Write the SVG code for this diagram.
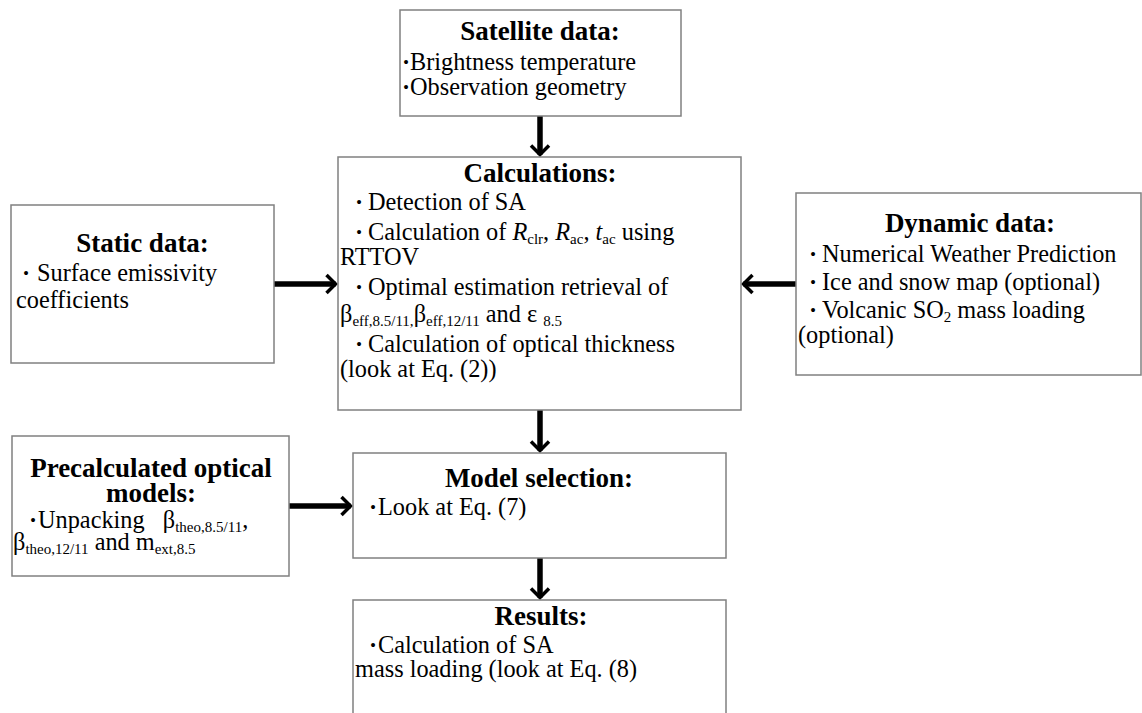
<svg xmlns="http://www.w3.org/2000/svg" width="1142" height="713" viewBox="0 0 1142 713">
<defs>
<style>
.box{fill:#fff;stroke:#808080;stroke-width:1.5}
.t{font-family:"Liberation Serif","Times New Roman",serif;font-size:24.3px;fill:#000}
.h{font-family:"Liberation Serif","Times New Roman",serif;font-size:27px;font-weight:bold;text-anchor:middle;fill:#000}
.b{font-weight:bold}
.s{font-size:15px}
.i{font-style:italic}
.arr{stroke:#000;stroke-width:5.5;fill:none;marker-end:url(#ah)}
</style>
<marker id="ah" viewBox="-14 -14 16 28" markerWidth="16" markerHeight="28" refX="0" refY="0" orient="auto" markerUnits="userSpaceOnUse" overflow="visible">
<path d="M-9,-9 L0,0 L-9,9" fill="none" stroke="#000" stroke-width="3.5" stroke-linejoin="miter"/>
</marker>
</defs>
<rect width="1142" height="713" fill="#fff"/>

<g id="connectors">
<line class="arr" x1="540" y1="116" x2="540" y2="154.5"/>
<line class="arr" x1="274" y1="284" x2="335.5" y2="284"/>
<line class="arr" x1="796" y1="284" x2="743.5" y2="284"/>
<line class="arr" x1="540" y1="410" x2="540" y2="450.5"/>
<line class="arr" x1="289" y1="506" x2="350.5" y2="506"/>
<line class="arr" x1="540" y1="558" x2="540" y2="597.5"/>
</g>

<g id="satellite">
<rect class="box" x="400" y="10" width="281" height="106"/>
<text class="h" x="540" y="40">Satellite data:</text>
<text class="t" y="70"><tspan class="b" x="402">·</tspan><tspan x="410">Brightness temperature</tspan></text>
<text class="t" y="95"><tspan class="b" x="402">·</tspan><tspan x="410">Observation geometry</tspan></text>
</g>

<g id="calculations">
<rect class="box" x="338" y="157" width="403" height="253"/>
<text class="h" x="540" y="182">Calculations:</text>
<text class="t" y="210"><tspan class="b" x="355">·</tspan><tspan x="368">Detection of SA</tspan></text>
<text class="t" y="240"><tspan class="b" x="355">·</tspan><tspan x="368">Calculation of </tspan><tspan class="i">R</tspan><tspan class="s" dy="4">clr</tspan><tspan dy="-4">, </tspan><tspan class="i">R</tspan><tspan class="s" dy="4">ac</tspan><tspan dy="-4">, </tspan><tspan class="i">t</tspan><tspan class="s" dy="4">ac</tspan><tspan dy="-4"> using</tspan></text>
<text class="t" x="340" y="265">RTTOV</text>
<text class="t" y="295"><tspan class="b" x="355">·</tspan><tspan x="368">Optimal estimation retrieval of</tspan></text>
<text class="t" y="322"><tspan x="340">β</tspan><tspan class="s" dy="4">eff,8.5/11,</tspan><tspan dy="-4">β</tspan><tspan class="s" dy="4">eff,12/11</tspan><tspan dy="-4"> and ε </tspan><tspan class="s" dy="4">8.5</tspan></text>
<text class="t" y="352"><tspan class="b" x="355">·</tspan><tspan x="368">Calculation of optical thickness</tspan></text>
<text class="t" x="340" y="377">(look at Eq. (2))</text>
</g>

<g id="static">
<rect class="box" x="11" y="205" width="263" height="158"/>
<text class="h" x="142.5" y="252">Static data:</text>
<text class="t" y="281"><tspan class="b" x="22">·</tspan><tspan x="37">Surface emissivity</tspan></text>
<text class="t" x="16" y="308">coefficients</text>
</g>

<g id="dynamic">
<rect class="box" x="796" y="193" width="345" height="182"/>
<text class="h" x="970" y="232">Dynamic data:</text>
<text class="t" y="262"><tspan class="b" x="809">·</tspan><tspan x="822">Numerical Weather Prediction</tspan></text>
<text class="t" y="290"><tspan class="b" x="809">·</tspan><tspan x="822">Ice and snow map (optional)</tspan></text>
<text class="t" y="318"><tspan class="b" x="809">·</tspan><tspan x="822">Volcanic SO</tspan><tspan class="s" dy="4">2</tspan><tspan dy="-4"> mass loading</tspan></text>
<text class="t" x="798" y="343">(optional)</text>
</g>

<g id="precalculated">
<rect class="box" x="12" y="436" width="277" height="140"/>
<text class="h" x="151" y="477">Precalculated optical</text>
<text class="h" x="151" y="502">models:</text>
<text class="t" y="528"><tspan class="b" x="29">·</tspan><tspan x="38">Unpacking&#160;&#160; β</tspan><tspan class="s" dy="4">theo,8.5/11</tspan><tspan dy="-4">,</tspan></text>
<text class="t" y="550"><tspan x="13">β</tspan><tspan class="s" dy="4">theo,12/11</tspan><tspan dy="-4"> and m</tspan><tspan class="s" dy="4">ext,8.5</tspan></text>
</g>

<g id="model-selection">
<rect class="box" x="353" y="453" width="373" height="105"/>
<text class="h" x="539" y="487">Model selection:</text>
<text class="t" y="515"><tspan class="b" x="369">·</tspan><tspan x="378">Look at Eq. (7)</tspan></text>
</g>

<g id="results">
<rect class="box" x="353" y="600" width="373" height="130"/>
<text class="h" x="541" y="625">Results:</text>
<text class="t" y="653"><tspan class="b" x="369">·</tspan><tspan x="378">Calculation of SA</tspan></text>
<text class="t" x="355" y="677">mass loading (look at Eq. (8)</text>
</g>
</svg>
